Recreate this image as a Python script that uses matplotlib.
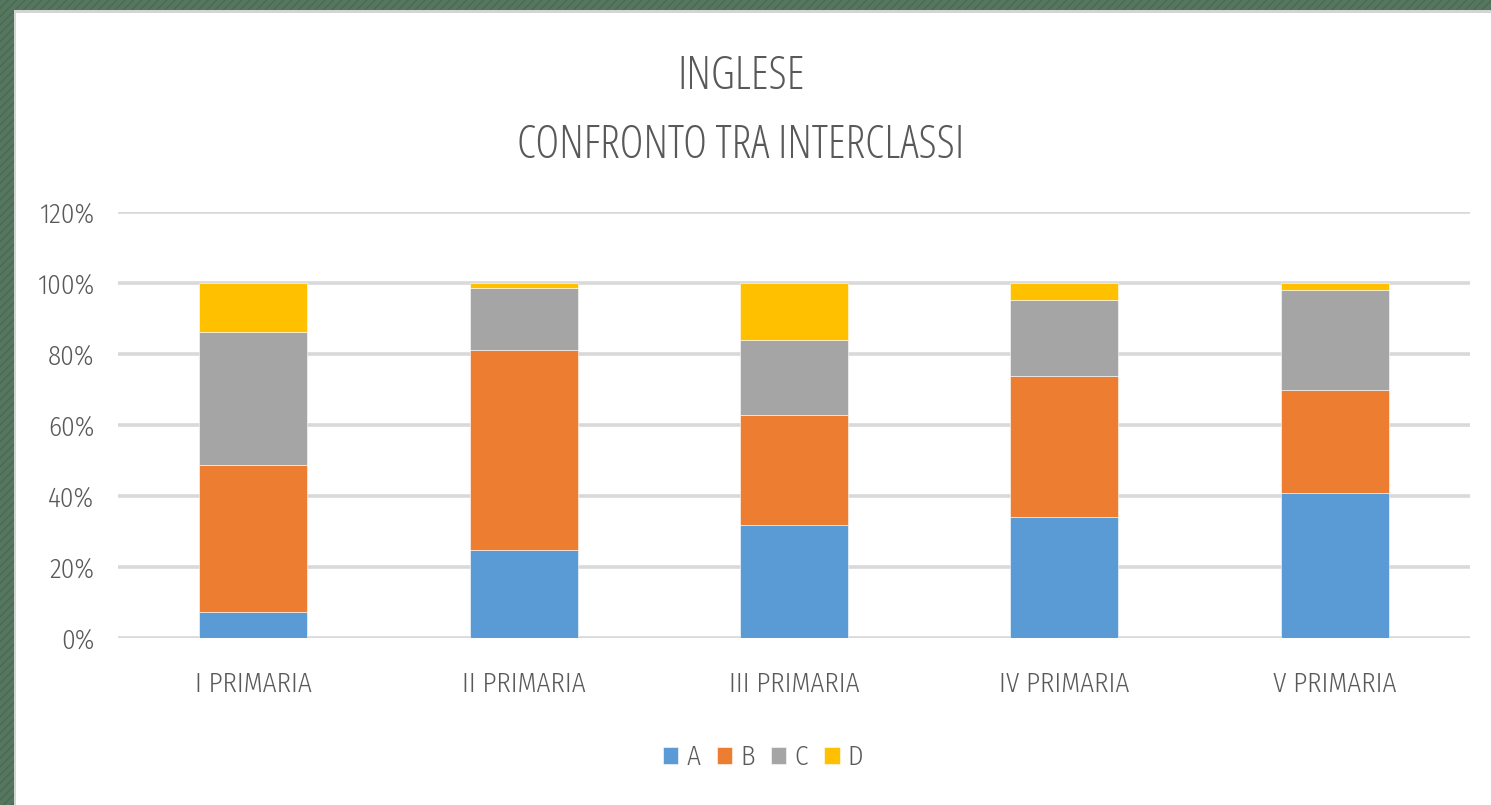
import matplotlib.pyplot as plt
from matplotlib.patches import Rectangle
from matplotlib.ticker import FuncFormatter
from matplotlib.font_manager import FontProperties
import numpy as np

# Dati (quota per classe, in frazione)
classi = ["I PRIMARIA", "II PRIMARIA", "III PRIMARIA", "IV PRIMARIA", "V PRIMARIA"]
serie_a = [0.072, 0.248, 0.317, 0.342, 0.408]
serie_b = [0.415, 0.563, 0.311, 0.396, 0.290]
serie_c = [0.375, 0.175, 0.211, 0.214, 0.282]
serie_d = [0.138, 0.014, 0.161, 0.048, 0.020]
nomi = ["A", "B", "C", "D"]
colori = ["#5B9BD5", "#ED7D31", "#A5A5A5", "#FFC000"]

W, H = 1491, 805
grigio_testo = "#595959"


def fp_titolo(size):
    return FontProperties(family=["Open Sans", "DejaVu Sans"], stretch="condensed",
                          weight=300, size=size)


def fp(size):
    return FontProperties(family=["Fira Sans Condensed", "DejaVu Sans"], stretch="condensed",
                          weight=300, size=size)


fig = plt.figure(figsize=(W / 100, H / 100), dpi=100)
fig.patch.set_facecolor("#55775f")

# sfondo tratteggiato e pannello bianco
bg = Rectangle((0, 0), 1, 1, transform=fig.transFigure, facecolor="#55775f",
               edgecolor="#4a6a54", hatch="////", linewidth=0, zorder=-3)
fig.add_artist(bg)
fig.patches.append(Rectangle((14 / W, 0), 1, 1 - 10 / H, transform=fig.transFigure,
                             facecolor="#d4d4d4", edgecolor="none", zorder=-2))
fig.patches.append(Rectangle((16 / W, 0), 1, 1 - 13 / H, transform=fig.transFigure,
                             facecolor="white", edgecolor="none", zorder=-1))

ax = fig.add_axes([118 / W, 1 - 638 / H, (1470 - 118) / W, (638 - 212) / H])
ax.set_facecolor("none")

x = np.arange(len(classi))
valori = [serie_a, serie_b, serie_c, serie_d]
base = np.zeros(len(classi))
maniglie = []
for nome, vals, col in zip(nomi, valori, colori):
    b = ax.bar(x, vals, bottom=base, width=0.4, color=col, label=nome,
               edgecolor="white", linewidth=0.4, zorder=3)
    maniglie.append(b)
    base = base + np.array(vals)

ax.set_xlim(-0.5, 4.5)
ax.set_ylim(0, 1.2)
ax.set_yticks(np.arange(0, 1.21, 0.2))
ax.yaxis.set_major_formatter(FuncFormatter(lambda v, p: f"{v * 100:.0f}%"))
ax.grid(axis="y", color="#d9d9d9", linewidth=2.6, zorder=0)
ax.set_axisbelow(True)
for s in ax.spines.values():
    s.set_visible(False)
ax.tick_params(axis="both", length=0, colors=grigio_testo)
ax.tick_params(axis="y", pad=17)
ax.tick_params(axis="x", pad=24)
ax.set_xticks(x)
ax.set_xticklabels(classi)
for lab in ax.get_xticklabels() + ax.get_yticklabels():
    lab.set_fontproperties(fp(19.5))
    lab.set_color(grigio_testo)

# titolo su due righe
fig.text(741 / W, 1 - 89 / H, "INGLESE", ha="center", va="baseline",
         fontproperties=fp_titolo(33), color=grigio_testo)
fig.text(741 / W, 1 - 158 / H, "CONFRONTO TRA INTERCLASSI", ha="center", va="baseline",
         fontproperties=fp_titolo(33), color=grigio_testo)

leg = fig.legend(handles=maniglie, labels=nomi, loc="center", ncol=4,
                 bbox_to_anchor=(763 / W, 1 - 757 / H), frameon=False,
                 prop=fp(19.5), handlelength=0.57, handleheight=0.57,
                 handletextpad=0.3, columnspacing=0.6)
for t in leg.get_texts():
    t.set_color(grigio_testo)

fig.savefig("out.png", dpi=100, facecolor=fig.get_facecolor())
